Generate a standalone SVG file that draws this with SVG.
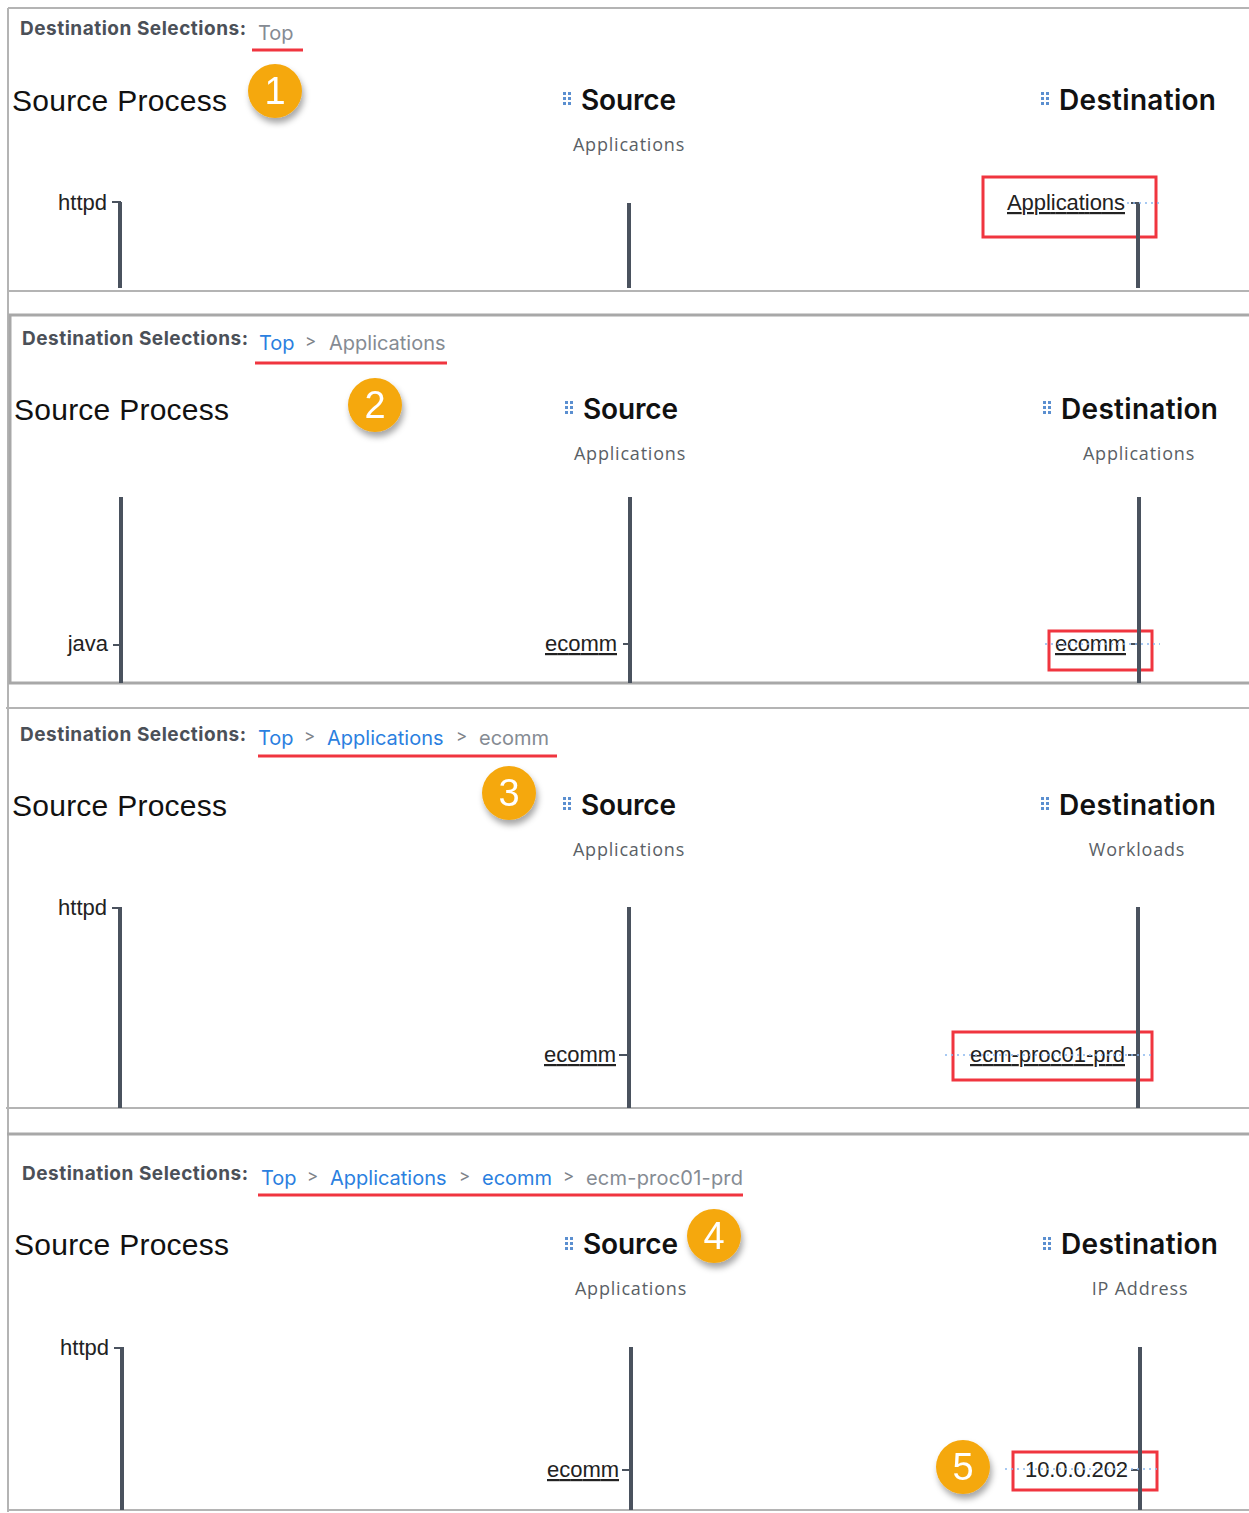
<svg xmlns="http://www.w3.org/2000/svg" width="1249" height="1513" viewBox="0 0 1249 1513">
<defs>
<style>
.frame{stroke:#b4b4b4;stroke-width:2;fill:none}
.frame2{stroke:#a8a8a8;stroke-width:3;fill:none}
.ds{font-family:Inter,"Liberation Sans",sans-serif;font-weight:700;font-size:19px;fill:#4b5058}
.crumb{font-family:Inter,"Liberation Sans",sans-serif;font-size:20px}
.cur{fill:#858b93}
.lnk{fill:#2b7fe0}
.sep{font-family:Inter,"Liberation Sans",sans-serif;font-size:17px;fill:#7d838b}
.ul{stroke:#f0353f;stroke-width:3}
.sp{font-family:"Liberation Sans",Arial,sans-serif;font-size:30px;fill:#111}
.hd{font-family:Inter,"Liberation Sans",sans-serif;font-weight:600;font-size:28px;fill:#111}
.sub{font-family:"Open Sans","Liberation Sans",sans-serif;font-size:18px;fill:#5a5f66;letter-spacing:0.8px}
.axis{stroke:#4a525e;stroke-width:4}
.tick{stroke:#4a525e;stroke-width:2}
.lbl{font-family:"Liberation Sans",Arial,sans-serif;font-size:22px;fill:#222}
.lblu{font-family:"Liberation Sans",Arial,sans-serif;font-size:22px;fill:#222;text-decoration:underline}
.box{stroke:#f0353f;stroke-width:3;fill:none}
.dot{stroke:#8ab8f0;stroke-width:1.5;stroke-dasharray:2 4;fill:none}
.badge{fill:#f5a80f}
.num{font-family:"Liberation Sans",Arial,sans-serif;font-size:38px;fill:#fff;text-anchor:middle}
.grip{fill:#5b8fd0}
</style>
<filter id="sh" x="-40%" y="-40%" width="180%" height="180%">
<feDropShadow dx="2" dy="5" stdDeviation="3" flood-color="#000" flood-opacity="0.35"/>
</filter>
<g id="gripicon">
<rect x="0" y="0" width="3" height="3"/><rect x="5" y="0" width="3" height="3"/>
<rect x="0" y="5" width="3" height="3"/><rect x="5" y="5" width="3" height="3"/>
<rect x="0" y="10" width="3" height="3"/><rect x="5" y="10" width="3" height="3"/>
</g>
</defs>
<rect width="1249" height="1513" fill="#fff"/>

<!-- frames -->
<g id="frames">
<line class="frame" x1="8" y1="8" x2="1249" y2="8"/>
<line class="frame" x1="8" y1="8" x2="8" y2="1512"/>
<line class="frame" x1="8" y1="291" x2="1249" y2="291"/>
<rect class="frame2" x="10" y="315" width="1245" height="368"/>
<line class="frame" x1="6" y1="708" x2="1249" y2="708"/>
<line class="frame" x1="6" y1="1108" x2="1249" y2="1108"/>
<line class="frame2" x1="7" y1="1134" x2="1249" y2="1134"/>
<line class="frame" x1="7" y1="1510" x2="1249" y2="1510"/>
</g>

<!-- Panel 1 -->
<g id="panel1">
<text class="ds" x="20" y="35" textLength="226">Destination Selections:</text>
<text class="crumb cur" x="258" y="40">Top</text>
<line class="ul" x1="252" y1="50" x2="303" y2="50"/>
<text class="sp" x="12" y="111" textLength="215">Source Process</text>
<use href="#gripicon" class="grip" x="563" y="92"/>
<text class="hd" x="581" y="110" textLength="95">Source</text>
<use href="#gripicon" class="grip" x="1041" y="92"/>
<text class="hd" x="1059" y="110" textLength="157">Destination</text>
<text class="sub" x="629" y="151" text-anchor="middle">Applications</text>
</g>
<g id="badge1" filter="url(#sh)"><circle class="badge" cx="275" cy="91" r="27"/><text class="num" x="275" y="104">1</text></g>

<g id="p1-httpd"><text class="lbl" x="107" y="210" text-anchor="end">httpd</text></g>
<g id="p1-src"><line class="axis" x1="629" y1="203" x2="629" y2="288"/></g>
<g id="p1-apps">
<text class="lblu" x="1007" y="210" textLength="118">Applications</text>
<rect class="box" x="983" y="177" width="173" height="60"/>
</g>

<!-- Panel 2 -->
<g id="panel2">
<text class="ds" x="22" y="345" textLength="226">Destination Selections:</text>
<text class="crumb lnk" x="259" y="350">Top</text>
<text class="sep" x="305" y="347">&gt;</text>
<text class="crumb cur" x="329" y="350">Applications</text>
<line class="ul" x1="255" y1="363" x2="447" y2="363"/>
<text class="sp" x="14" y="420" textLength="215">Source Process</text>
<use href="#gripicon" class="grip" x="565" y="401"/>
<text class="hd" x="583" y="419" textLength="95">Source</text>
<use href="#gripicon" class="grip" x="1043" y="401"/>
<text class="hd" x="1061" y="419" textLength="157">Destination</text>
<text class="sub" x="630" y="460" text-anchor="middle">Applications</text>
<text class="sub" x="1139" y="460" text-anchor="middle">Applications</text>
</g>
<g id="badge2" filter="url(#sh)"><circle class="badge" cx="375" cy="405" r="27"/><text class="num" x="375" y="418">2</text></g>
<g id="p2-java"><text class="lbl" x="108" y="651" text-anchor="end">java</text></g>
<g id="p2-ecomm-src"><text class="lblu" x="545" y="651" textLength="72">ecomm</text></g>
<g id="p2-ecomm-dst">
<text class="lblu" x="1055" y="651" textLength="71">ecomm</text>
<rect class="box" x="1049" y="631" width="103" height="39"/>
</g>

<!-- Panel 3 -->
<g id="panel3">
<text class="ds" x="20" y="741" textLength="226">Destination Selections:</text>
<text class="crumb lnk" x="258" y="745">Top</text>
<text class="sep" x="304" y="742">&gt;</text>
<text class="crumb lnk" x="327" y="745">Applications</text>
<text class="sep" x="456" y="742">&gt;</text>
<text class="crumb cur" x="479" y="745">ecomm</text>
<line class="ul" x1="258" y1="756" x2="557" y2="756"/>
<text class="sp" x="12" y="816" textLength="215">Source Process</text>
<use href="#gripicon" class="grip" x="563" y="797"/>
<text class="hd" x="581" y="815" textLength="95">Source</text>
<use href="#gripicon" class="grip" x="1041" y="797"/>
<text class="hd" x="1059" y="815" textLength="157">Destination</text>
<text class="sub" x="629" y="856" text-anchor="middle">Applications</text>
<text class="sub" x="1137" y="856" text-anchor="middle">Workloads</text>
</g>
<g id="badge3" filter="url(#sh)"><circle class="badge" cx="509" cy="793" r="27"/><text class="num" x="509" y="806">3</text></g>
<g id="p3-httpd"><text class="lbl" x="107" y="915" text-anchor="end">httpd</text></g>
<g id="p3-ecomm"><text class="lblu" x="544" y="1062" textLength="72">ecomm</text></g>
<g id="p3-ecm">
<text class="lblu" x="970" y="1062" textLength="155">ecm-proc01-prd</text>
<rect class="box" x="953" y="1032" width="199" height="48"/>
</g>

<!-- Panel 4 -->
<g id="panel4">
<text class="ds" x="22" y="1180" textLength="226">Destination Selections:</text>
<text class="crumb lnk" x="261" y="1185">Top</text>
<text class="sep" x="307" y="1182">&gt;</text>
<text class="crumb lnk" x="330" y="1185">Applications</text>
<text class="sep" x="459" y="1182">&gt;</text>
<text class="crumb lnk" x="482" y="1185">ecomm</text>
<text class="sep" x="563" y="1182">&gt;</text>
<text class="crumb cur" x="586" y="1185" textLength="157">ecm-proc01-prd</text>
<line class="ul" x1="258" y1="1195" x2="743" y2="1195"/>
<text class="sp" x="14" y="1255" textLength="215">Source Process</text>
<use href="#gripicon" class="grip" x="565" y="1237"/>
<text class="hd" x="583" y="1254" textLength="95">Source</text>
<use href="#gripicon" class="grip" x="1043" y="1237"/>
<text class="hd" x="1061" y="1254" textLength="157">Destination</text>
<text class="sub" x="631" y="1295" text-anchor="middle">Applications</text>
<text class="sub" x="1140" y="1295" text-anchor="middle">IP Address</text>
</g>
<g id="badge4" filter="url(#sh)"><circle class="badge" cx="714" cy="1236" r="27"/><text class="num" x="714" y="1249">4</text></g>
<g id="p4-httpd"><text class="lbl" x="109" y="1355" text-anchor="end">httpd</text></g>
<g id="p4-ecomm"><text class="lblu" x="547" y="1477" textLength="72">ecomm</text></g>
<g id="p4-ip">
<text class="lbl" x="1025" y="1477" textLength="103">10.0.0.202</text>
<rect class="box" x="1013" y="1452" width="144" height="38"/>
</g>
<g id="badge5" filter="url(#sh)"><circle class="badge" cx="963" cy="1467" r="27"/><text class="num" x="963" y="1480">5</text></g>

<!-- connectors: axes, ticks, faint flow dots -->
<g id="connectors">
<line class="axis" x1="120" y1="202" x2="120" y2="288"/>
<line class="tick" x1="112" y1="202" x2="121" y2="202"/>
<line class="axis" x1="1138" y1="203" x2="1138" y2="288"/>
<line class="tick" x1="1131" y1="203" x2="1139" y2="203"/>
<line class="dot" x1="1127" y1="203" x2="1160" y2="203"/>

<line class="axis" x1="121" y1="497" x2="121" y2="683"/>
<line class="tick" x1="113" y1="645" x2="122" y2="645"/>
<line class="axis" x1="630" y1="497" x2="630" y2="683"/>
<line class="tick" x1="623" y1="644" x2="631" y2="644"/>
<line class="axis" x1="1139" y1="497" x2="1139" y2="683"/>
<line class="tick" x1="1131" y1="644" x2="1140" y2="644"/>
<line class="dot" x1="1045" y1="644" x2="1160" y2="644"/>

<line class="axis" x1="120" y1="907" x2="120" y2="1108"/>
<line class="tick" x1="112" y1="908" x2="121" y2="908"/>
<line class="axis" x1="629" y1="907" x2="629" y2="1108"/>
<line class="tick" x1="619" y1="1055" x2="630" y2="1055"/>
<line class="axis" x1="1138" y1="907" x2="1138" y2="1108"/>
<line class="tick" x1="1128" y1="1055" x2="1139" y2="1055"/>
<line class="dot" x1="945" y1="1055" x2="1155" y2="1055"/>

<line class="axis" x1="122" y1="1347" x2="122" y2="1510"/>
<line class="tick" x1="114" y1="1348" x2="123" y2="1348"/>
<line class="axis" x1="631" y1="1347" x2="631" y2="1510"/>
<line class="tick" x1="622" y1="1470" x2="632" y2="1470"/>
<line class="axis" x1="1140" y1="1347" x2="1140" y2="1510"/>
<line class="tick" x1="1131" y1="1470" x2="1141" y2="1470"/>
<line class="dot" x1="1005" y1="1469" x2="1160" y2="1469"/>
</g>
</svg>
